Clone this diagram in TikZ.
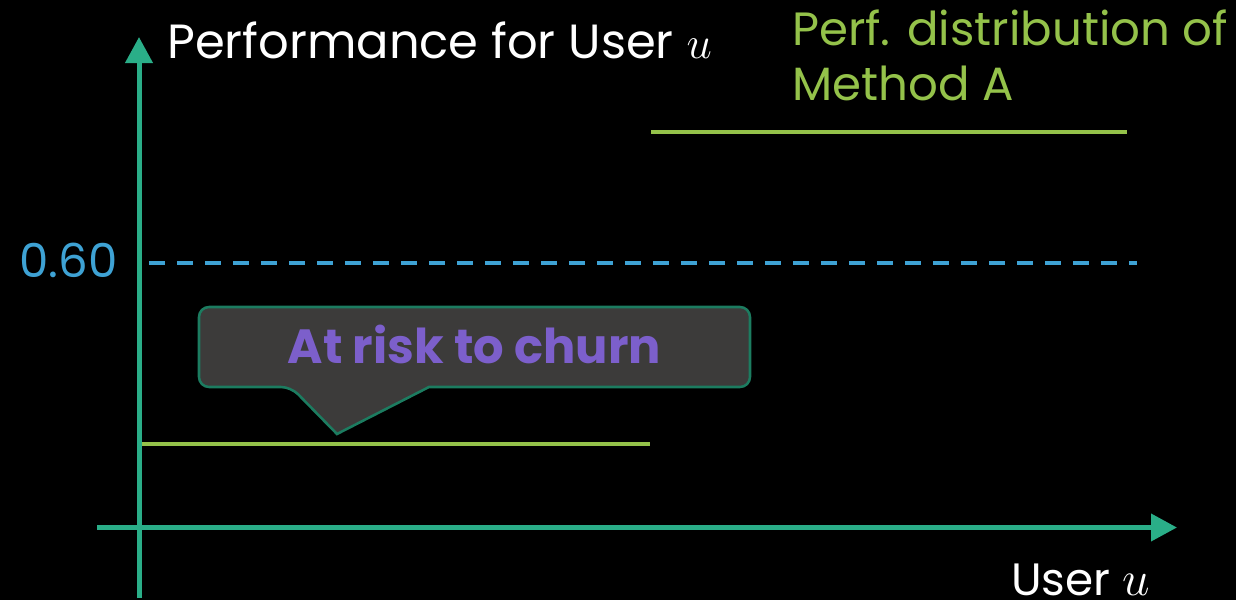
\documentclass[tikz,border=0pt]{standalone}
\usepackage{fix-cm}
\usepackage{fontspec}
\setmainfont{Poppins}
\usetikzlibrary{arrows.meta}
\definecolor{axisteal}{HTML}{2AAE88}
\definecolor{perfgreen}{HTML}{94C24A}
\definecolor{thrblue}{HTML}{3EA2D4}
\definecolor{riskpurple}{HTML}{7C5FCB}
\definecolor{calloutfill}{HTML}{3C3B3A}
\definecolor{calloutline}{HTML}{1C7C60}
\begin{document}
\begin{tikzpicture}[x=0.75pt,y=-0.75pt,
  axisline/.style={draw=axisteal,line width=3.75pt},
  axistip/.style={-{Triangle[length=19.5pt,width=20pt]}},
  perfline/.style={draw=perfgreen,line width=3pt},
  lbl/.style={inner sep=0pt,font=\fontsize{35}{40}\selectfont},
]
\useasboundingbox[fill=black] (0,0) rectangle (1236,600);
% axes
\coordinate (ybot) at (139,598);
\coordinate (ytop) at (139,37);
\coordinate (xleft) at (97,527.5);
\coordinate (xright) at (1177,527.5);
\draw[axisline,axistip,axisteal] (ybot) -- (ytop);
\draw[axisline,axistip,axisteal] (xleft) -- (xright);
% threshold
\coordinate (thrL) at (149,263);
\coordinate (thrR) at (1137,263);
\draw[draw=thrblue,line width=2.6pt,dash pattern=on 12pt off 9pt] (thrL) -- (thrR);
% distribution lines
\coordinate (hiL) at (651,131.5);
\coordinate (hiR) at (1127,131.5);
\coordinate (loL) at (142,444);
\coordinate (loR) at (650,444);
\draw[perfline] (hiL) -- (hiR);
\draw[perfline] (loL) -- (loR);
% callout
\draw[fill=calloutfill,draw=calloutline,line width=1.9pt,rounded corners=7.5pt]
  (429,387) -- (750,387) -- (750,307) -- (199,307) -- (199,387) -- (291,387)
  [sharp corners] -- (337,434) -- cycle;
% labels
\node[lbl,anchor=base west,text=white,font=\fontsize{36}{40}\selectfont] (ylab) at (167,58) {Performance for User \fontsize{34}{40}\selectfont$u$};
\node[lbl,anchor=base west,text=perfgreen] (perf1) at (792,45) {Perf. distribution of};
\node[lbl,anchor=base west,text=perfgreen] (perf2) at (792,100) {Method A};
\node[lbl,anchor=base east,text=thrblue] (thr) at (118,277) {0.60};
\node[lbl,anchor=base west,text=white,font=\fontsize{34}{40}\selectfont] (xlab) at (1011,595) {User \fontsize{37}{40}\selectfont$u$};
\node[lbl,anchor=base,text=riskpurple,font=\fontsize{36}{40}\selectfont\bfseries] (risk) at (474.5,363) {At risk to churn};
\end{tikzpicture}
\end{document}
